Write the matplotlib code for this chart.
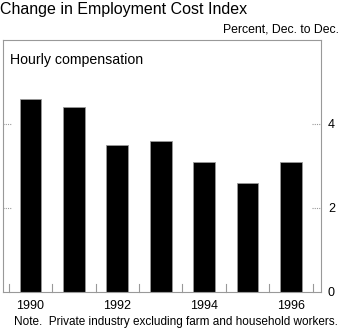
import matplotlib
matplotlib.use("Agg")
import matplotlib.pyplot as plt

# Employment cost index, hourly compensation, percent change Dec. to Dec.
years = [1990, 1991, 1992, 1993, 1994, 1995, 1996]
changes = [4.6, 4.4, 3.5, 3.6, 3.1, 2.6, 3.1]
yearLabels = [1990, 1992, 1994, 1996]
yTicks = [0, 2, 4]

plt.rcParams['font.family'] = ['Liberation Sans', 'DejaVu Sans']

fig = plt.figure(figsize=(3.4, 3.3), dpi=100)
ax = fig.add_axes([3 / 340, 38 / 330, 318 / 340, 252 / 330])

ax.bar(years, changes, width=0.5, color="black", edgecolor="#999999", linewidth=0.6)
ax.set_xlim(1989.37, 1996.69)
ax.set_ylim(0, 6)

# Dotted frame round the panel
for side in ax.spines.values():
    side.set_color("#999999")
    side.set_linestyle((0, (1, 1)))
    side.set_linewidth(0.8)

# Small ticks between the years, drawn inside along the base
for boundary in [y - 0.5 for y in years] + [years[-1] + 0.5]:
    ax.plot([boundary, boundary], [0, 0.19], color="#999999", lw=0.8, clip_on=False)

# Short dotted ticks on both sides at the gridline values
for v in yTicks[1:]:
    ax.plot([1989.37, 1989.55], [v, v], color="#999999", lw=0.8, ls=(0, (1, 1)))
    ax.plot([1996.49, 1996.69], [v, v], color="#999999", lw=0.8, ls=(0, (1, 1)))

ax.set_xticks([])
ax.set_yticks(yTicks)
ax.yaxis.tick_right()
ax.tick_params(axis="y", length=0, pad=5, labelsize=9)

for yr in yearLabels:
    ax.text(yr, -0.18, str(yr), ha="center", va="top", fontsize=9)

ax.text(0.022, 0.95, "Hourly compensation", transform=ax.transAxes,
        ha="left", va="top", fontsize=10.2)

fig.text(0.0, 0.995, "Change in Employment Cost Index", ha="left", va="top", fontsize=11.5)
fig.text(0.998, 0.912, "Percent, Dec. to Dec.", ha="right", va="center", fontsize=8.8)
fig.text(0.994, 0.025, "Note.  Private industry excluding farm and household workers.",
         ha="right", va="center", fontsize=8.5)

fig.savefig("out.png", dpi=100)
